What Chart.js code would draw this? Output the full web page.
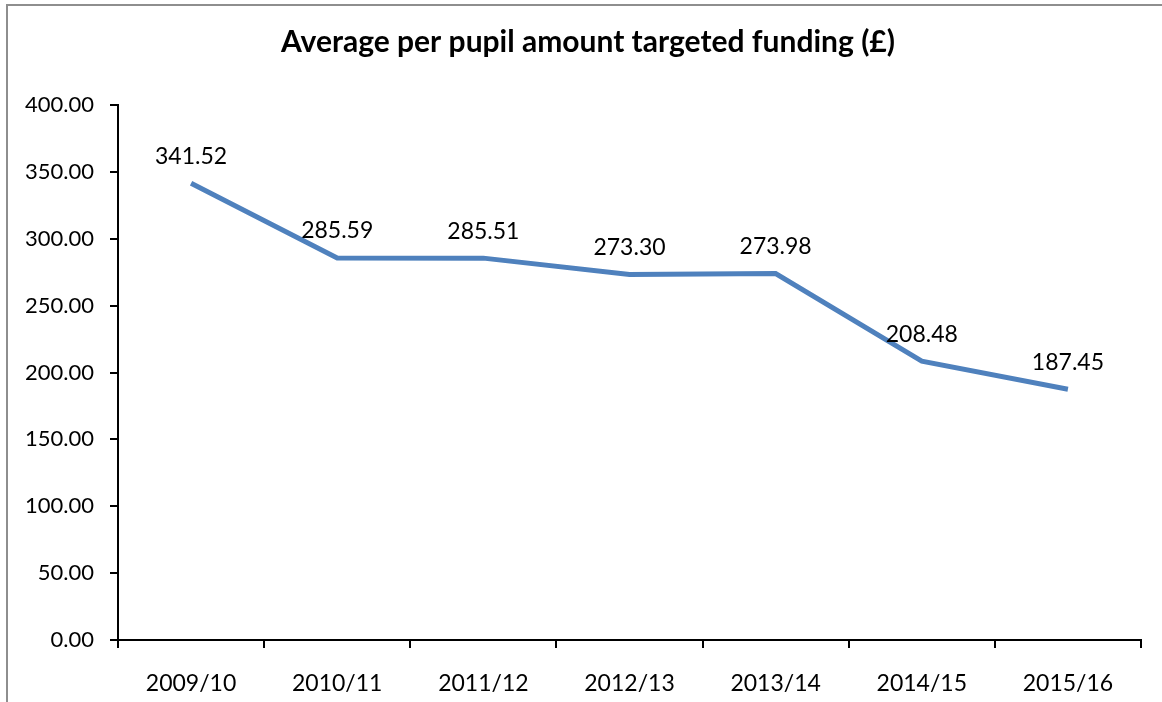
<!DOCTYPE html>
<html>
<head>
<meta charset="utf-8">
<script src="https://cdn.jsdelivr.net/npm/chart.js@4/dist/chart.umd.min.js"></script>
<style>
  html, body { margin: 0; padding: 0; background: #fff; overflow: hidden; }
  .chart__wrapper { position: relative; width: 1162px; height: 702px; }
</style>
</head>
<body>
<div class="chart__wrapper">
  <canvas id="funding-line-chart" width="1162" height="702"></canvas>
</div>
<script>
  const years = ["2009/10", "2010/11", "2011/12", "2012/13", "2013/14", "2014/15", "2015/16"];
  const amounts = [341.52, 285.59, 285.51, 273.3, 273.98, 208.48, 187.45];
  const chartTitle = "Average per pupil amount targeted funding (\u00a3)";

  const fontFamily = "Lato, 'Open Sans', sans-serif";

  // outer frame (only top + left visible in the crop) and the title,
  // which sits a bit right of the canvas centre like the original
  const framePlugin = {
    id: "frame",
    beforeDraw(chart) {
      const ctx = chart.ctx;
      ctx.save();
      ctx.fillStyle = "#fff";
      ctx.fillRect(0, 0, chart.width, chart.height);
      ctx.strokeStyle = "#8e8e8e";
      ctx.lineWidth = 2;
      ctx.beginPath();
      ctx.moveTo(7, chart.height);
      ctx.lineTo(7, 5);
      ctx.lineTo(chart.width, 5);
      ctx.stroke();

      ctx.fillStyle = "#000";
      ctx.font = "bold 30px " + fontFamily;
      ctx.textAlign = "center";
      ctx.textBaseline = "middle";
      ctx.fillText(chartTitle, 588, 42);
      ctx.restore();
    },
  };

  // value labels above each point
  const valueLabels = {
    id: "valueLabels",
    afterDatasetsDraw(chart) {
      const ctx = chart.ctx;
      const meta = chart.getDatasetMeta(0);
      const data = chart.data.datasets[0].data;
      ctx.save();
      ctx.font = "23px " + fontFamily;
      ctx.fillStyle = "#000";
      ctx.textAlign = "center";
      ctx.textBaseline = "middle";
      meta.data.forEach((pt, i) => {
        ctx.fillText(data[i].toFixed(2), pt.x, pt.y - 27);
      });
      ctx.restore();
    },
  };

  const ctx = document.getElementById("funding-line-chart").getContext("2d");

  new Chart(ctx, {
    type: "line",
    data: {
      labels: years,
      datasets: [
        {
          data: amounts,
          borderColor: "#4f81bd",
          borderWidth: 5,
          pointRadius: 0,
          tension: 0,
          fill: false,
        },
      ],
    },
    options: {
      responsive: false,
      animation: false,
      layout: {
        padding: { left: 0, right: 21, top: 105, bottom: 0 },
      },
      scales: {
        x: {
          offset: true,
          afterFit(scale) {
            scale.height = 62;
          },
          grid: {
            offset: true,
            drawOnChartArea: false,
            drawTicks: true,
            tickLength: 8,
            color: "#000",
            lineWidth: 2,
          },
          border: { display: true, color: "#000", width: 2 },
          ticks: {
            color: "#000",
            padding: 22,
            maxRotation: 0,
            font: { family: fontFamily, size: 23 },
          },
        },
        y: {
          min: 0,
          max: 400,
          afterFit(scale) {
            scale.width = 118;
          },
          grid: {
            drawOnChartArea: false,
            drawTicks: true,
            tickLength: 8,
            color: "#000",
            lineWidth: 2,
          },
          border: { display: true, color: "#000", width: 2 },
          ticks: {
            stepSize: 50,
            color: "#000",
            padding: 16,
            font: { family: fontFamily, size: 22 },
            callback: (v) => Number(v).toFixed(2),
          },
        },
      },
      plugins: {
        legend: { display: false },
        tooltip: { enabled: false },
        title: { display: false },
      },
    },
    plugins: [framePlugin, valueLabels],
  });
</script>
</body>
</html>
